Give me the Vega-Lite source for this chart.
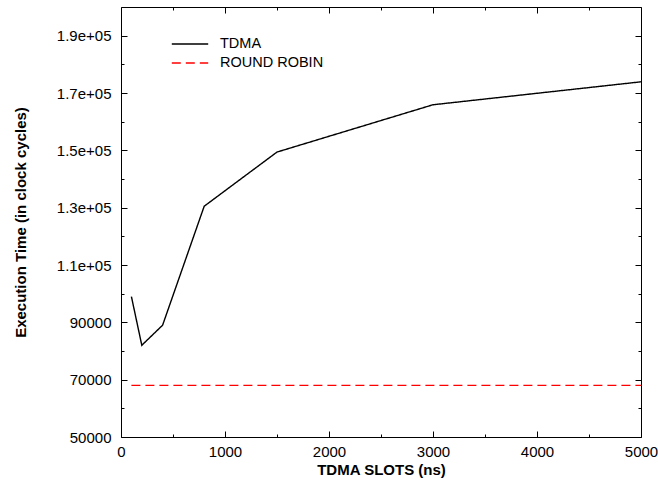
{
  "$schema": "https://vega.github.io/schema/vega-lite/v6.json",
  "width": 520,
  "height": 430,
  "autosize": {"type": "none"},
  "padding": {"left": 121, "top": 7, "right": 17, "bottom": 45},
  "background": "white",
  "config": {
    "font": "Liberation Sans",
    "view": {"stroke": "black", "strokeWidth": 1},
    "axis": {
      "grid": false,
      "domain": false,
      "zindex": 1,
      "tickColor": "black",
      "tickWidth": 1,
      "labelFont": "Liberation Sans",
      "labelFontSize": 15,
      "labelColor": "black",
      "titleFont": "Liberation Sans",
      "titleFontSize": 15,
      "titleFontWeight": "bold",
      "titleColor": "black"
    }
  },
  "data": {
    "values": [
      {"slot": 100, "time": 99000, "series": "TDMA"},
      {"slot": 200, "time": 82000, "series": "TDMA"},
      {"slot": 400, "time": 89000, "series": "TDMA"},
      {"slot": 800, "time": 130500, "series": "TDMA"},
      {"slot": 1500, "time": 149400, "series": "TDMA"},
      {"slot": 3000, "time": 165900, "series": "TDMA"},
      {"slot": 5000, "time": 173900, "series": "TDMA"},
      {"slot": 100, "time": 68000, "series": "ROUND ROBIN"},
      {"slot": 5000, "time": 68000, "series": "ROUND ROBIN"}
    ]
  },
  "resolve": {"axis": {"x": "independent", "y": "independent"}},
  "layer": [
    {
      "mark": {"type": "line", "strokeWidth": 1.4},
      "encoding": {
        "x": {
          "field": "slot", "type": "quantitative",
          "scale": {"domain": [0, 5000], "nice": false},
          "axis": {
            "orient": "bottom",
            "offset": -6,
            "values": [0,500,1000,1500,2000,2500,3000,3500,4000,4500,5000],
            "labelExpr": "datum.value % 1000 === 0 ? format(datum.value, 'd') : ''",
            "tickSize": 6,
            "tickDash": {"condition": {"test": "datum.value % 1000 !== 0", "value": [0, 3, 3, 0]}, "value": [10, 0]},
            "labelPadding": 7,
            "labelFlush": false,
            "title": "TDMA SLOTS (ns)",
            "titlePadding": 3
          }
        },
        "y": {
          "field": "time", "type": "quantitative",
          "scale": {"domain": [50000, 200000], "nice": false, "zero": false},
          "axis": {
            "orient": "left",
            "offset": -6,
            "values": [50000,60000,70000,80000,90000,100000,110000,120000,130000,140000,150000,160000,170000,180000,190000],
            "labelExpr": "datum.value % 20000 === 10000 ? (datum.value >= 100000 ? format(datum.value/100000, '.1f') + 'e+05' : format(datum.value, 'd')) : ''",
            "tickSize": 6,
            "tickDash": {"condition": {"test": "datum.value % 20000 !== 10000", "value": [0, 3, 3, 0]}, "value": [10, 0]},
            "labelPadding": 10,
            "labelFlush": false,
            "title": "Execution Time (in clock cycles)",
            "titlePadding": 28
          }
        },
        "color": {
          "field": "series", "type": "nominal",
          "scale": {"domain": ["TDMA", "ROUND ROBIN"], "range": ["#000000", "#ff0000"]},
          "legend": {
            "title": null,
            "orient": "none",
            "legendX": 61,
            "legendY": 29,
            "symbolType": "M-2.6,0H2.6",
            "symbolSize": 196,
            "symbolStrokeWidth": 1.4,
            "labelFont": "Liberation Sans",
            "labelFontSize": 14.5,
            "labelColor": "black",
            "labelOffset": 22,
            "rowPadding": 4
          }
        },
        "strokeDash": {
          "field": "series", "type": "nominal",
          "scale": {"domain": ["TDMA", "ROUND ROBIN"], "range": [[1, 0], [9, 5]]},
          "legend": {
            "title": null,
            "orient": "none",
            "legendX": 61,
            "legendY": 29,
            "symbolType": "M-2.6,0H2.6",
            "symbolSize": 196,
            "symbolStrokeWidth": 1.4,
            "labelFont": "Liberation Sans",
            "labelFontSize": 14.5,
            "labelColor": "black",
            "labelOffset": 22,
            "rowPadding": 4
          }
        }
      }
    },
    {
      "mark": {"type": "line", "opacity": 0},
      "encoding": {
        "x": {
          "field": "slot", "type": "quantitative",
          "axis": {
            "orient": "top",
            "values": [0,500,1000,1500,2000,2500,3000,3500,4000,4500,5000],
            "labels": false,
            "title": null,
            "tickSize": {"condition": {"test": "datum.value % 1000 !== 0", "value": -3}, "value": -6}
          }
        },
        "y": {
          "field": "time", "type": "quantitative",
          "axis": {
            "orient": "right",
            "values": [50000,60000,70000,80000,90000,100000,110000,120000,130000,140000,150000,160000,170000,180000,190000],
            "labels": false,
            "title": null,
            "tickSize": {"condition": {"test": "datum.value % 20000 !== 10000", "value": -3}, "value": -6}
          }
        }
      }
    }
  ]
}
